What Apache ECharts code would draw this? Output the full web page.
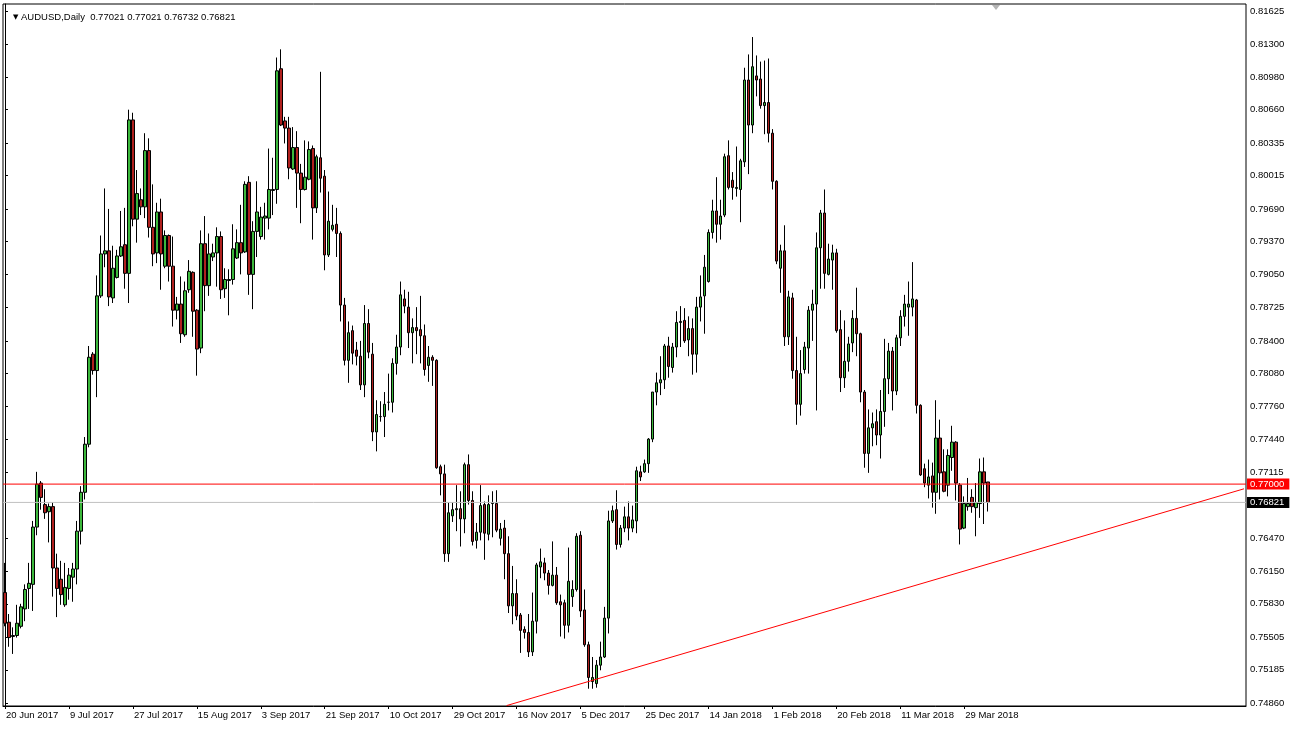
<!DOCTYPE html>
<html>
<head>
<meta charset="utf-8">
<script src="https://cdn.jsdelivr.net/npm/echarts@6/dist/echarts.min.js"></script>
<style>
html,body{margin:0;padding:0;background:#fff;}
#chart{width:1290px;height:729px;}
</style>
</head>
<body>
<div id="chart"></div>
<script>
// ---- data ----
const symbolTitle = 'AUDUSD,Daily';
const lastBar = ['0.77021', '0.77021', '0.76732', '0.76821'];
const dateLabels = ['20 Jun 2017','9 Jul 2017','27 Jul 2017','15 Aug 2017','3 Sep 2017','21 Sep 2017',
  '10 Oct 2017','29 Oct 2017','16 Nov 2017','5 Dec 2017','25 Dec 2017','14 Jan 2018','1 Feb 2018',
  '20 Feb 2018','11 Mar 2018','29 Mar 2018'];
const barsPerLabel = 16;
const totalSlots = 311;
const priceTicks = [0.74860,0.75185,0.75505,0.75830,0.76150,0.76470,0.77115,0.77440,0.77760,0.78080,
  0.78400,0.78725,0.79050,0.79370,0.79690,0.80015,0.80335,0.80660,0.80980,0.81300,0.81625];
const priceMin = 0.74831;
const priceMax = 0.81693;
const levelLine = 0.77000;
const bidLine = 0.76821;
const trendX = [125.5, 310];
const trendY = [0.74835, 0.76954];

const opens = [
.7594,.7565,.7551,.7552,.7561,.7578,.7598,.7602,.7658,.7701,.7680,.7673,.7678,.7618,.7607,.7582,.7598,.7609,.7617,.7654,
.7692,.7739,.7827,.7811,.7884,.7925,.7928,.7882,.7902,.7923,.7934,.7906,.8056,.7959,.7978,.7971,.8026,.7951,.7926,.7966,
.7913,.7943,.7913,.7870,.7876,.7846,.7890,.7907,.7870,.7833,.7935,.7894,.7922,.7926,.7942,.7891,.7899,.7900,.7921,.7936,
.7927,.7995,.7905,.7947,.7942,.7960,.7960,.7987,.7988,.8106,.8055,.8048,.8008,.8029,.8004,.7988,.7998,.8028,.7970,.8019,
.8001,.7924,.7949,.7954,.7945,.7875,.7821,.7850,.7831,.7825,.7797,.7857,.7827,.7751,.7766,.7766,.7780,.7780,.7818,.7834,
.7881,.7873,.7848,.7853,.7851,.7845,.7816,.7824,.7821,.7717,.7710,.7632,.7669,.7675,.7676,.7666,.7719,.7684,.7645,.7653,
.7680,.7651,.7681,.7681,.7647,.7657,.7632,.7581,.7593,.7572,.7558,.7555,.7536,.7566,.7619,.7623,.7613,.7601,.7611,.7585,
.7584,.7562,.7590,.7597,.7650,.7577,.7543,.7507,.7505,.7523,.7531,.7569,.7664,.7675,.7641,.7657,.7668,.7657,.7664,.7712,
.7712,.7720,.7744,.7790,.7799,.7802,.7835,.7814,.7834,.7858,.7860,.7841,.7852,.7827,.7873,.7884,.7898,.7946,.7967,.7954,
.7963,.8021,.7997,.7989,.7988,.8015,.8095,.8051,.8099,.8096,.8070,.8073,.8043,.7996,.7911,.7928,.7844,.7882,.7811,.7778,
.7812,.7833,.7870,.7876,.7931,.7965,.7905,.7919,.7926,.7851,.7804,.7820,.7838,.7862,.7847,.7790,.7730,.7755,.7761,.7748,
.7771,.7803,.7830,.7791,.7843,.7864,.7873,.7873,.7880,.7777,.7715,.7699,.7708,.7692,.7745,.7712,.7699,.7726,.7741,.7699,
.7657,.7678,.7687,.7677,.7681,.7712,.77021];
const highs = [
.7623,.7573,.7560,.7582,.7583,.7602,.7623,.7664,.7712,.7703,.7695,.7681,.7682,.7632,.7625,.7623,.7618,.7623,.7664,.7698,
.7746,.7835,.7829,.7904,.7943,.7989,.7969,.7933,.7929,.7967,.7970,.8066,.8063,.8007,.7989,.8043,.8038,.7993,.7975,.7979,
.7948,.7944,.7942,.7883,.7903,.7898,.7919,.7908,.7871,.7948,.7962,.7945,.7935,.7951,.7947,.7911,.7910,.7954,.7949,.7973,
.7996,.8001,.7957,.7996,.7971,.7975,.8028,.8019,.8117,.8125,.8059,.8059,.8049,.8045,.8013,.8036,.8035,.8031,.8022,.8103,
.8007,.7986,.7973,.7970,.7947,.7882,.7859,.7855,.7839,.7840,.7875,.7871,.7838,.7782,.7781,.7790,.7808,.7823,.7846,.7898,
.7890,.7888,.7862,.7873,.7884,.7856,.7835,.7826,.7822,.7719,.7719,.7682,.7682,.7699,.7693,.7721,.7729,.7693,.7662,.7699,
.7683,.7689,.7693,.7694,.7662,.7665,.7649,.7620,.7607,.7574,.7561,.7573,.7594,.7623,.7637,.7628,.7616,.7644,.7619,.7592,
.7587,.7638,.7606,.7652,.7654,.7597,.7546,.7531,.7528,.7546,.7580,.7674,.7679,.7694,.7660,.7678,.7683,.7679,.7717,.7718,
.7724,.7745,.7790,.7809,.7825,.7837,.7844,.7838,.7869,.7874,.7872,.7864,.7862,.7883,.7904,.7924,.7949,.7978,.8000,.7978,
.8023,.8036,.8005,.8030,.8018,.8107,.8120,.8137,.8119,.8113,.8114,.8116,.8047,.7997,.7934,.7953,.7889,.7887,.7844,.7831,
.7839,.7874,.7890,.7946,.7968,.7988,.7935,.7934,.7930,.7870,.7860,.7844,.7870,.7892,.7848,.7792,.7773,.7770,.7773,.7792,
.7842,.7838,.7834,.7846,.7870,.7885,.7898,.7917,.7881,.7778,.7720,.7724,.7721,.7782,.7763,.7734,.7734,.7757,.7742,.7701,
.7688,.7706,.7695,.7701,.7725,.7726,.77021];
const lows = [
.7561,.7541,.7534,.7550,.7559,.7566,.7578,.7576,.7650,.7675,.7666,.7643,.7590,.7570,.7582,.7580,.7587,.7585,.7602,.7641,
.7685,.7736,.7807,.7785,.7882,.7912,.7874,.7877,.7901,.7922,.7891,.7877,.7952,.7936,.7963,.7960,.7941,.7913,.7916,.7890,
.7911,.7898,.7854,.7861,.7838,.7844,.7887,.7844,.7806,.7828,.7869,.7884,.7918,.7893,.7881,.7882,.7865,.7895,.7920,.7905,
.7926,.7885,.7871,.7922,.7939,.7939,.7949,.7963,.7974,.8050,.8033,.7998,.8007,.7970,.7955,.7987,.7997,.7939,.7965,.7985,
.7909,.7922,.7947,.7922,.7859,.7816,.7799,.7817,.7816,.7792,.7785,.7823,.7742,.7732,.7761,.7746,.7772,.7770,.7807,.7826,
.7867,.7833,.7818,.7827,.7818,.7806,.7800,.7796,.7715,.7689,.7624,.7624,.7663,.7654,.7639,.7652,.7680,.7640,.7637,.7645,
.7626,.7645,.7648,.7653,.7640,.7607,.7574,.7563,.7567,.7535,.7549,.7531,.7532,.7554,.7608,.7606,.7592,.7600,.7582,.7551,
.7549,.7555,.7580,.7595,.7570,.7541,.7500,.7500,.7501,.7518,.7530,.7554,.7662,.7636,.7638,.7653,.7645,.7653,.7652,.7703,
.7711,.7711,.7741,.7777,.7787,.7793,.7804,.7809,.7824,.7834,.7838,.7825,.7807,.7809,.7859,.7847,.7897,.7940,.7936,.7939,
.7961,.7988,.7978,.7981,.7956,.8010,.8003,.8043,.8079,.8067,.8042,.8034,.7988,.7915,.7887,.7835,.7836,.7803,.7758,.7767,
.7808,.7808,.7840,.7772,.7891,.7891,.7904,.7890,.7848,.7790,.7794,.7810,.7829,.7825,.7780,.7716,.7711,.7737,.7738,.7725,
.7756,.7788,.7772,.7787,.7835,.7854,.7845,.7864,.7769,.7708,.7697,.7686,.7677,.7671,.7685,.7692,.7688,.7713,.7684,.7641,
.7656,.7674,.7672,.7649,.7667,.7661,.76732];
const closes = [
.7564,.7550,.7552,.7564,.7580,.7597,.7603,.7658,.7700,.7687,.7672,.7678,.7618,.7598,.7592,.7599,.7611,.7617,.7654,.7692,
.7739,.7824,.7811,.7884,.7925,.7928,.7883,.7911,.7923,.7932,.7906,.8056,.7959,.7984,.7971,.8026,.7951,.7925,.7966,.7925,
.7943,.7913,.7870,.7876,.7847,.7889,.7908,.7869,.7832,.7935,.7894,.7925,.7926,.7942,.7890,.7900,.7900,.7930,.7936,.7926,
.7993,.7905,.7947,.7966,.7961,.7962,.7988,.7988,.8104,.8051,.8048,.8009,.8029,.8004,.7988,.8000,.8027,.7970,.8020,.7999,
.7924,.7957,.7953,.7945,.7875,.7821,.7848,.7828,.7825,.7797,.7857,.7829,.7751,.7768,.7766,.7778,.7780,.7818,.7834,.7885,
.7874,.7848,.7853,.7850,.7845,.7812,.7824,.7821,.7716,.7710,.7632,.7672,.7675,.7676,.7666,.7719,.7684,.7644,.7653,.7679,
.7652,.7680,.7682,.7655,.7656,.7632,.7581,.7593,.7571,.7557,.7555,.7536,.7566,.7621,.7624,.7613,.7601,.7611,.7584,.7582,
.7562,.7605,.7597,.7649,.7576,.7543,.7511,.7511,.7523,.7531,.7569,.7664,.7674,.7641,.7657,.7668,.7657,.7665,.7713,.7707,
.7720,.7744,.7790,.7799,.7802,.7835,.7815,.7834,.7858,.7859,.7840,.7852,.7827,.7873,.7883,.7912,.7946,.7967,.7954,.7962,
.8020,.7990,.7990,.7990,.8016,.8095,.8051,.8108,.8095,.8070,.8073,.8043,.7996,.7918,.7928,.7844,.7883,.7811,.7778,.7808,
.7834,.7870,.7876,.7931,.7965,.7906,.7920,.7926,.7850,.7804,.7820,.7837,.7862,.7847,.7790,.7730,.7755,.7759,.7748,.7771,
.7803,.7830,.7791,.7843,.7864,.7876,.7876,.7881,.7777,.7709,.7701,.7707,.7692,.7745,.7711,.7693,.7728,.7741,.7701,.7656,
.7681,.7681,.7678,.7682,.7712,.7701,.76821];

// ---- build library inputs ----
const slotNames = [];
for (let i = 0; i < totalSlots; i++) slotNames.push('bar' + i);
const candleData = opens.map((o, i) => [o, closes[i], lows[i], highs[i]]);
const isLabelSlot = (idx) => idx % barsPerLabel === 0 && (idx / barsPerLabel) < dateLabels.length;
const xSpan = [-0.5, totalSlots - 0.5];

const FONT = 'Liberation Sans';
function levelSeries(value, lineColor, boxColor) {
  return {
    type: 'line', xAxisIndex: 1, silent: true, symbol: 'none', clip: false,
    data: xSpan.map(x => [x, value]),
    lineStyle: { color: lineColor, width: 1 },
    endLabel: {
      show: true, distance: 1, formatter: () => value.toFixed(5),
      color: '#fff', backgroundColor: boxColor, padding: [1, 5, 0, 3],
      fontFamily: FONT, fontSize: 9.5
    }
  };
}

const chart = echarts.init(document.getElementById('chart'), null, {renderer: 'canvas'});
chart.setOption({
  animation: false,
  backgroundColor: '#ffffff',
  title: {
    left: 8, top: 7,
    text: '{tri|\u25BC} ' + symbolTitle + '  ' + lastBar.join(' '),
    textStyle: {
      fontFamily: FONT, fontSize: 9.5, fontWeight: 'normal', color: '#000',
      rich: { tri: { fontSize: 7, color: '#000', fontFamily: 'DejaVu Sans' } }
    }
  },
  grid: {
    left: 3, top: 4, width: 1243, height: 702,
    show: true, borderColor: '#000', borderWidth: 1, backgroundColor: '#fff'
  },
  xAxis: [{
    type: 'category',
    data: slotNames,
    boundaryGap: true,
    axisLine: { show: true, lineStyle: { color: '#000', width: 1 } },
    axisTick: { show: true, alignWithLabel: true, interval: isLabelSlot, length: 3, lineStyle: { color: '#000' } },
    axisLabel: {
      show: true, interval: isLabelSlot, align: 'left', margin: 4,
      formatter: (v, idx) => dateLabels[idx / barsPerLabel] || '',
      fontFamily: FONT, fontSize: 9.5, color: '#000', padding: [0, 0, 0, 1]
    },
    splitLine: { show: false }
  }, {
    type: 'value', min: xSpan[0], max: xSpan[1], show: false
  }],
  yAxis: {
    type: 'value', position: 'right', min: priceMin, max: priceMax, scale: true,
    axisLine: { show: true, lineStyle: { color: '#000' } },
    axisTick: { show: true, length: 3, customValues: priceTicks, lineStyle: { color: '#000' } },
    axisLabel: {
      show: true, customValues: priceTicks, margin: 4, align: 'left',
      formatter: (v) => v.toFixed(5), fontFamily: FONT, fontSize: 9.5, color: '#000'
    },
    splitLine: { show: false }
  },
  series: [
    levelSeries(bidLine, '#c0c0c0', '#000000'),
    {
      type: 'candlestick',
      xAxisIndex: 0,
      data: candleData,
      barWidth: 3,
      itemStyle: {
        color: '#3cb83c', color0: '#b0201e',
        borderColor: '#000', borderColor0: '#000', borderWidth: 1
      }
    },
    levelSeries(levelLine, '#ff0000', '#ff0000'),
    {
      type: 'line',
      xAxisIndex: 1,
      data: trendX.map((x, i) => [x, trendY[i]]),
      symbol: 'none', silent: true, clip: true,
      lineStyle: { color: '#ff0000', width: 1 }
    }
  ],
  graphic: [{
    type: 'polygon', silent: true,
    shape: { points: [[992, 5], [1000, 5], [996, 10]] },
    style: { fill: '#b4b4b4' }
  }]
});
</script>
</body>
</html>
